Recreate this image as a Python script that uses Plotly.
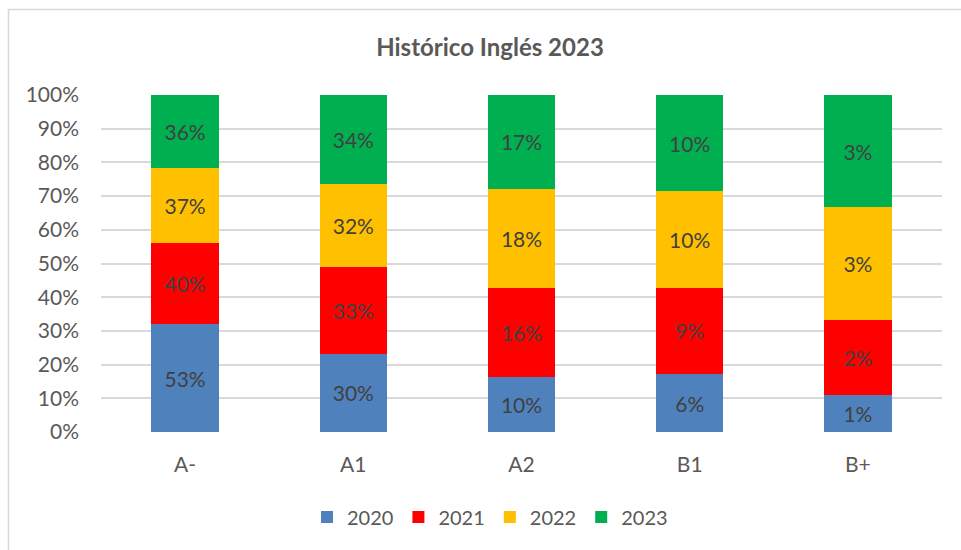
import plotly.graph_objects as go

# Niveles de inglés y conteos por año (etiquetas muestran el valor de cada año)
niveles = ["A-", "A1", "A2", "B1", "B+"]
anios = ["2020", "2021", "2022", "2023"]
v2020 = [53, 30, 10, 6, 1]
v2021 = [40, 33, 16, 9, 2]
v2022 = [37, 32, 18, 10, 3]
v2023 = [36, 34, 17, 10, 3]
colores = ["#4f81bd", "#ff0000", "#ffc000", "#00b050"]
ticks_y = [0, 10, 20, 30, 40, 50, 60, 70, 80, 90, 100]

FONT = "Lato, 'Open Sans', sans-serif"
GRIS = "#595959"

fig = go.Figure()
for anio, vals, col in zip(anios, [v2020, v2021, v2022, v2023], colores):
    fig.add_trace(go.Bar(
        name=anio, x=niveles, y=vals, marker=dict(color=col, line=dict(width=0)),
        text=[f"{v}%" for v in vals], textposition="inside", insidetextanchor="middle",
        textfont=dict(color="#404040", size=21, family=FONT),
        constraintext="none",
    ))

W, H = 961, 550
L, R, T, B = 101, 19, 95, 118
pw, ph = W - L - R, H - T - B

def px_x(p):
    return (p - L) / pw

def px_y(p):
    return (H - B - p) / ph

fig.update_layout(
    barmode="stack", barnorm="percent", bargap=0.6,
    width=W, height=H, margin=dict(l=L, r=R, t=T, b=B),
    paper_bgcolor="white", plot_bgcolor="white",
    font=dict(family=FONT, color=GRIS, size=21),
    title=dict(text="<b>Histórico Inglés 2023</b>", x=px_x(490), xref="paper",
               xanchor="center", y=1 - 48 / H, yanchor="middle",
               font=dict(size=24, color=GRIS, family=FONT)),
    legend=dict(orientation="h", x=px_x(490), xanchor="center", y=px_y(517),
                yanchor="middle", font=dict(size=20, color=GRIS, family=FONT),
                traceorder="normal", itemwidth=30),
    xaxis=dict(showline=False, ticks="", tickfont=dict(size=21, color=GRIS),
               ticklabelstandoff=18),
    yaxis=dict(range=[0, 100], tickvals=ticks_y, ticktext=[f"{t}%" for t in ticks_y],
               showgrid=True, gridcolor="#d9d9d9", gridwidth=1.5, zeroline=False,
               ticks="", tickfont=dict(size=21, color=GRIS), ticklabelstandoff=21),
    shapes=[dict(type="rect", xref="paper", yref="paper",
                 x0=px_x(8.5), x1=px_x(1000), y0=px_y(600), y1=px_y(9.5),
                 line=dict(color="#d9d9d9", width=1.5), layer="below")],
)

fig.write_html("out.html")
